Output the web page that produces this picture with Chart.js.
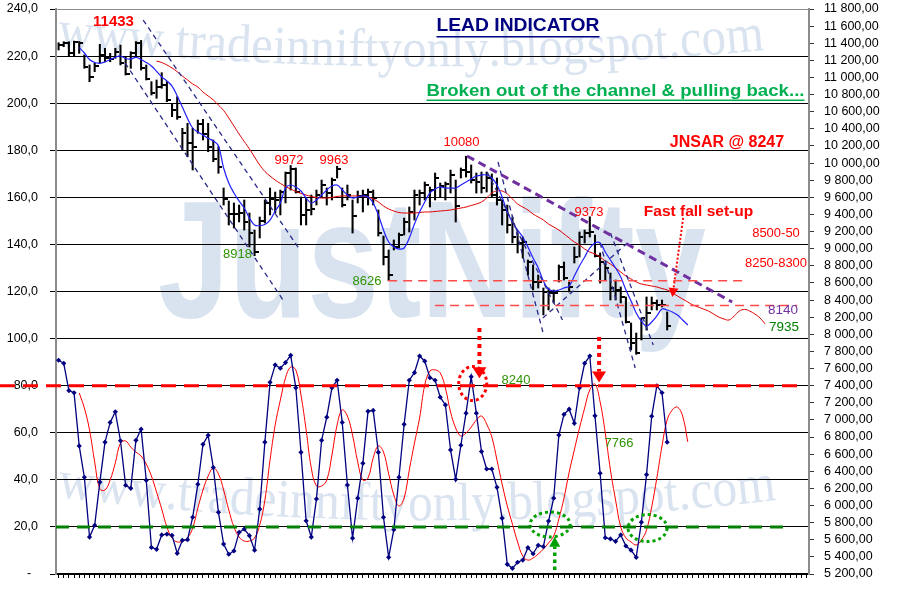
<!DOCTYPE html>
<html><head><meta charset="utf-8">
<script src="https://cdn.jsdelivr.net/npm/chart.js@4.4.1/dist/chart.umd.min.js"></script>
<style>html,body{margin:0;padding:0;background:#fff;}#wrap{width:898px;height:611px;}</style>
</head><body><div id="wrap"><canvas id="c" width="898" height="611"></canvas></div>
<script>
const CATEGORY_COUNT = 146;
const categories = Array.from({length: CATEGORY_COUNT}, (_, i) => 'S' + (i + 1));

const barHigh = [
 11406,11418,11418,11425,11420,11263,11146,11166,11388,11341,
 11282,11341,11379,11243,11301,11420,11433,11146,10951,10971,
 11056,10951,10698,10775,10406,10465,10406,10503,10511,10465,
 10270,10191,9709,9557,9534,9510,9569,9417,9218,9370,
 9569,9709,9662,9685,9896,9972,9943,9604,9592,9627,
 9685,9802,9709,9826,9963,9709,9744,9569,9674,9685,
 9697,9685,9452,9148,8985,9102,9183,9358,9487,9685,
 9685,9779,9721,9884,9767,9779,9919,9802,9943,10080,
 9978,9884,9896,9896,9873,9826,9569,9510,9370,9183,
 9137,8868,8810,8693,8541,8541,8518,8810,8845,8611,
 9020,9195,9218,9373,9160,8950,8833,8716,8634,8553,
 8436,8132,8015,8191,8436,8436,8401,8401,8261];
const barLow = [
 11321,11360,11243,11243,11282,11107,10951,11068,11166,11184,
 11184,11224,11146,11029,11107,11243,11087,10971,10795,10757,
 10874,10717,10542,10511,10153,10075,9919,10348,10270,10133,
 10016,9881,9510,9277,9242,9312,9218,9020,8918,9125,
 9300,9394,9417,9394,9534,9685,9650,9277,9277,9394,
 9510,9604,9510,9569,9826,9487,9569,9183,9534,9429,
 9510,9510,9148,8810,8626,8985,9008,9160,9195,9335,
 9510,9569,9487,9569,9604,9569,9650,9312,9826,9837,
 9767,9650,9650,9662,9604,9510,9277,9183,9067,8950,
 8891,8693,8518,8541,8226,8284,8366,8611,8634,8494,
 8833,8903,9067,9137,8903,8599,8634,8401,8401,8366,
 8132,7817,7766,7934,8050,8284,8284,8319,8050];
const barClose = [
 11379,11399,11282,11418,11399,11126,11009,11134,11263,11224,
 11212,11301,11166,11041,11289,11399,11107,10982,10815,10885,
 10912,10737,10620,10535,10355,10231,10191,10457,10336,10191,
 10044,9958,9581,9405,9405,9417,9312,9183,8962,9323,
 9534,9581,9569,9662,9884,9931,9662,9394,9452,9464,
 9627,9744,9651,9802,9931,9510,9627,9382,9616,9627,
 9662,9592,9183,8903,8693,9020,9160,9312,9429,9627,
 9651,9744,9685,9826,9732,9756,9861,9499,9919,9896,
 9802,9779,9709,9826,9627,9569,9452,9277,9137,9067,
 9078,8845,8611,8611,8494,8483,8483,8786,8658,8553,
 8903,9137,9183,9195,8915,8845,8774,8541,8518,8436,
 8144,7898,7782,8191,8249,8366,8342,8342,8097];

const fastStart = 4;
const fastAvg = [
 11348,11286,11210,11175,11166,11181,11210,11236,11251,11222,
 11216,11236,11210,11175,11134,11072,11006,10959,10900,10784,
 10655,10521,10410,10363,10328,10290,10258,10200,9943,9767,
 9651,9557,9475,9359,9277,9269,9283,9335,9440,9534,
 9709,9744,9721,9674,9592,9534,9569,9627,9686,9732,
 9744,9686,9627,9592,9604,9616,9604,9534,9394,9218,
 9078,9020,8996,9008,9125,9289,9429,9546,9651,9697,
 9721,9709,9709,9709,9744,9779,9814,9849,9861,9861,
 9826,9744,9604,9429,9312,9218,9137,9020,8891,8775,
 8623,8529,8506,8518,8541,8564,8681,8798,8903,9008,
 9067,9067,8962,8868,8775,8670,8518,8389,8249,8155,
 8097,8144,8214,8296,8284,8261,8226,8167,8109];

const slowStart = 19;
const slowAvg = [
 11192,11175,11146,11111,11068,11017,10971,10924,10889,10830,
 10784,10737,10678,10614,10527,10433,10340,10252,10165,10071,
 9978,9902,9849,9802,9762,9727,9697,9668,9645,9627,
 9610,9598,9592,9592,9598,9610,9616,9616,9616,9616,
 9610,9604,9581,9546,9499,9464,9440,9423,9417,9417,
 9417,9423,9429,9429,9435,9440,9446,9452,9464,9475,
 9487,9505,9522,9546,9592,9651,9674,9674,9639,9581,
 9522,9487,9452,9405,9370,9335,9288,9253,9218,9172,
 9125,9078,9043,8996,8961,8938,8903,8856,8821,8775,
 8728,8681,8646,8611,8588,8576,8564,8553,8535,8518,
 8483,8447,8412,8377,8342,8319,8296,8272,8237,8202,
 8179,8167,8214,8272,8290,8272,8237,8191,8121];

const oscillator = [
 90.8,89.5,77.9,77.0,54.4,41.1,15.7,20.7,39.0,56.0,
 64.4,68.9,56.6,37.7,36.4,56.8,61.5,39.8,11.3,10.5,
 16.6,16.9,16.4,8.8,14.3,14.6,24.1,38.1,55.1,58.9,
 45.2,26.2,12.7,8.4,9.8,17.7,19.1,16.3,10.1,27.6,
 56.0,81.4,88.8,87.4,89.8,92.9,79.1,51.7,22.6,15.7,
 31.9,56.8,66.6,79.1,82.3,64.4,37.8,15.2,32.2,47.0,
 69.1,69.5,51.7,24.1,7.1,18.8,41.1,63.6,82.3,85.5,
 92.6,90.4,83.4,82.3,75.1,71.8,52.7,40.2,54.7,68.3,
 83.8,68.3,52.0,44.6,44.6,36.8,23.7,4.1,2.4,5.0,
 5.9,11.2,8.6,12.2,11.6,22.5,32.2,59.0,67.8,70.0,
 64.0,79.1,89.5,92.6,67.2,42.8,15.4,14.9,13.9,16.6,
 11.9,10.1,7.1,22.0,42.2,67.0,79.9,77.0,56.0];

const signalStart = 4;
const signal = [
 76.9,70.5,61.2,47.6,36.1,35.7,39.9,47.2,55.6,56.5,
 53.9,51.8,50.1,46.7,41.6,34.8,27.6,20.0,15.3,13.6,
 14.0,15.3,19.5,28.0,35.7,41.6,45.0,42.5,35.7,27.2,
 20.0,15.7,14.0,14.0,15.3,20.8,31.4,48.4,63.3,73.9,
 83.3,87.9,86.7,76.0,61.2,45.0,37.4,37.4,39.9,50.5,
 63.3,69.7,67.1,59.0,47.6,39.9,40.8,49.3,54.4,51.8,
 42.5,33.6,28.9,32.3,44.2,55.6,66.3,80.3,86.2,86.7,
 85.4,79.0,68.8,62.0,58.6,59.9,62.4,65.4,67.1,63.7,
 58.2,48.4,38.2,28.9,21.2,13.6,7.6,5.9,6.8,8.5,
 10.6,13.2,16.1,23.4,32.3,43.3,52.7,62.0,70.5,78.2,
 80.7,73.1,59.9,44.2,31.4,20.0,15.3,13.6,12.3,14.4,
 18.7,28.5,40.8,54.4,65.4,69.7,70.9,67.1,56.1];

// axis ranges / tick steps
const leftAxis = {min: 0, max: 240, step: 20};
const rightAxis = {min: 5200, max: 11800, step: 200};

// annotation geometry in data space: [category index, price]
const trendLines = [
 {a:[16.4,11671], b:[46.8,8985], kind:'channel'},
 {a:[12.9,11169], b:[43.5,8401], kind:'channel'},
 {a:[85.2,10013], b:[93.9,8027], kind:'channel'},
 {a:[83.1,9896],  b:[97.7,8167], kind:'channel'},
 {a:[105.0,9067], b:[111.8,7606], kind:'channel'},
 {a:[107.0,9183], b:[115.3,7875], kind:'channel'},
 {a:[93.9,8191],  b:[110.3,9067], kind:'channel'},
 {a:[79.2,10083], b:[130.6,8377], kind:'resistance'}
];
const priceLevels = [ {price:8626, from:63.9, to:132.6}, {price:8336, from:73.0, to:143.2} ];
const oscLevels = [ {value:80, to:143.4, color:'#ff0000', fromEdge:true}, {value:20, to:141.9, color:'#008000', fromEdge:false} ];
const oscRings = [ {at:[80.3,80.9], rx:14, ry:17, color:'#ff0000', w:3}, {at:[95.3,21.0], rx:20, ry:12.5, color:'#00a000', w:3}, {at:[114.2,19.5], rx:19.5, ry:13.5, color:'#00a000', w:3} ];
const oscArrows = [ {x:81.6, from:104.5, to:83.2, color:'#ff0000'}, {x:104.8, from:100.7, to:81.3, color:'#ff0000'}, {x:96.2, from:1.7, to:15.8, color:'#00a000'} ];
const fastFallArrow = {a:[121.1,9359], b:[119.0,8436]};

const notes = [
 {t:'11433', x:113.5, y:22, c:'#ff0000', f:'bold 15px'},
 {t:'LEAD INDICATOR', x:518, y:26, c:'#000080', f:'bold 19px', u:true, w:163},
 {t:'Broken out of the channel & pulling back...', x:615.5, y:91, c:'#00b050', f:'bold 16.5px', u:true, w:378},
 {t:'JNSAR @ 8247', x:727, y:143, c:'#ff0000', f:'bold 16px'},
 {t:'10080', x:461.5, y:142, c:'#ff0000', f:'13px'},
 {t:'9972', x:289, y:160, c:'#ff0000', f:'13px'},
 {t:'9963', x:334, y:160, c:'#ff0000', f:'13px'},
 {t:'9373', x:589, y:212, c:'#ff0000', f:'13px'},
 {t:'Fast fall set-up', x:698.5, y:212, c:'#ff0000', f:'bold 15.5px'},
 {t:'8500-50', x:776, y:233, c:'#ff0000', f:'13px'},
 {t:'8250-8300', x:776, y:263, c:'#ff0000', f:'13px'},
 {t:'8140', x:783, y:310, c:'#7030a0', f:'13.5px'},
 {t:'7935', x:784, y:327, c:'#008000', f:'13.5px'},
 {t:'8918', x:237.5, y:254, c:'#2f9400', f:'13px'},
 {t:'8626', x:367, y:281, c:'#2f9400', f:'13px'},
 {t:'8240', x:516, y:380, c:'#2f9400', f:'13px'},
 {t:'7766', x:619, y:443, c:'#2f9400', f:'13px'}
];

const FONT = '"Liberation Sans", Arial, sans-serif';
Chart.defaults.font.family = FONT;

function placeAt(values, start) {
  const out = new Array(CATEGORY_COUNT).fill(null);
  values.forEach((v, k) => { out[start + k] = v; });
  return out;
}
const closeTick = document.createElement('canvas');
closeTick.width = 8; closeTick.height = 2;
(function(){ const g = closeTick.getContext('2d'); g.fillStyle = '#000'; g.fillRect(4, 0, 4, 2); })();

function fmtLeft(v) { return v === 0 ? '-  ' : v.toFixed(1).replace('.', ','); }
function fmtRight(v) { return String(Math.round(v)).replace(/\B(?=(\d{3})+(?!\d))/g, ' ') + ',00'; }

function arcText(ctx, text, x0, x1, pts, size) {
  const [[ax, ay], [bx, by], [cx, cy]] = pts;
  const q = x => ay*(x-bx)*(x-cx)/((ax-bx)*(ax-cx)) + by*(x-ax)*(x-cx)/((bx-ax)*(bx-cx)) + cy*(x-ax)*(x-bx)/((cx-ax)*(cx-bx));
  const dq = x => ay*((x-bx)+(x-cx))/((ax-bx)*(ax-cx)) + by*((x-ax)+(x-cx))/((bx-ax)*(bx-cx)) + cy*((x-ax)+(x-bx))/((cx-ax)*(cx-bx));
  ctx.font = size + 'px "Liberation Serif", "Times New Roman", serif';
  let total = 0; for (const ch of text) total += ctx.measureText(ch).width;
  const sx = (x1 - x0) / total;
  let pos = x0;
  ctx.textAlign = 'center'; ctx.textBaseline = 'alphabetic';
  for (const ch of text) {
    const w = ctx.measureText(ch).width * sx;
    const mx = pos + w / 2;
    ctx.save(); ctx.translate(mx, q(mx)); ctx.rotate(Math.atan(dq(mx))); ctx.scale(sx, 1);
    ctx.fillText(ch, 0, 0); ctx.restore();
    pos += w;
  }
}

function arrowHead(ctx, tx, ty, ang, len, half) {
  ctx.save(); ctx.setLineDash([]); ctx.translate(tx, ty); ctx.rotate(ang);
  ctx.beginPath(); ctx.moveTo(0, 0); ctx.lineTo(-len, -half); ctx.lineTo(-len, half); ctx.closePath(); ctx.fill(); ctx.restore();
}

const decor = {
  id: 'decor',
  beforeDraw(chart) {
    const ctx = chart.ctx;
    ctx.save();
    ctx.fillStyle = '#fff'; ctx.fillRect(0, 0, chart.width, chart.height);
    ctx.fillStyle = '#d9e3f0';
    ctx.font = 'bold 167px ' + FONT;
    const w = ctx.measureText('JustNifty').width;
    ctx.save(); ctx.translate(158, 317); ctx.scale(548 / w, 1); ctx.textAlign = 'left'; ctx.textBaseline = 'alphabetic';
    ctx.fillText('JustNifty', 0, 0); ctx.restore();
    ctx.fillStyle = '#dae3f0';
    arcText(ctx, 'www.tradeinniftyonly.blogspot.com', 57, 765, [[57,47],[380,66],[765,50]], 54);
    arcText(ctx, 'www.tradeinniftyonly.blogspot.com', 57, 777, [[57,497],[390,520],[777,500]], 54);
    ctx.restore();
  },
  afterDatasetsDraw(chart) {
    const ctx = chart.ctx, xs = chart.scales.x, yp = chart.scales.y2, yo = chart.scales.y;
    const X = i => xs.getPixelForValue(i);
    ctx.save();
    trendLines.forEach(l => {
      ctx.beginPath();
      if (l.kind === 'channel') { ctx.strokeStyle = '#2a2a8a'; ctx.lineWidth = 1.3; ctx.setLineDash([5, 4]); }
      else { ctx.strokeStyle = '#7030a0'; ctx.lineWidth = 3; ctx.setLineDash([8, 5]); }
      ctx.moveTo(X(l.a[0]), yp.getPixelForValue(l.a[1]));
      ctx.lineTo(X(l.b[0]), yp.getPixelForValue(l.b[1]));
      ctx.stroke();
    });
    ctx.strokeStyle = '#ff4a4a'; ctx.lineWidth = 1.5; ctx.setLineDash([9, 6]);
    priceLevels.forEach(p => {
      const y = yp.getPixelForValue(p.price);
      ctx.beginPath(); ctx.moveTo(X(p.from), y); ctx.lineTo(X(p.to), y); ctx.stroke();
    });
    oscRings.forEach(r => {
      ctx.strokeStyle = r.color; ctx.lineWidth = r.w; ctx.setLineDash([3, 3]);
      ctx.beginPath(); ctx.ellipse(X(r.at[0]), yo.getPixelForValue(r.at[1]), r.rx, r.ry, 0, 0, Math.PI * 2); ctx.stroke();
    });
    oscArrows.forEach(a => {
      const x = X(a.x), y1 = yo.getPixelForValue(a.from), y2 = yo.getPixelForValue(a.to);
      const dir = Math.sign(y2 - y1);
      const red = a.color === '#ff0000';
      const head = red ? 11 : 10;
      ctx.strokeStyle = a.color; ctx.fillStyle = a.color; ctx.lineWidth = red ? 4 : 3.5; ctx.setLineDash(red ? [4, 4] : [3.5, 3.5]);
      ctx.beginPath(); ctx.moveTo(x, y1); ctx.lineTo(x, y2 - dir * head); ctx.stroke();
      arrowHead(ctx, x, y2, dir > 0 ? Math.PI / 2 : -Math.PI / 2, head, red ? 7 : 5.5);
    });
    {
      const x1 = X(fastFallArrow.a[0]), y1 = yp.getPixelForValue(fastFallArrow.a[1]);
      const x2 = X(fastFallArrow.b[0]), y2 = yp.getPixelForValue(fastFallArrow.b[1]);
      const ang = Math.atan2(y2 - y1, x2 - x1);
      ctx.strokeStyle = '#ff0000'; ctx.fillStyle = '#ff0000'; ctx.lineWidth = 2; ctx.setLineDash([2, 2]);
      ctx.beginPath(); ctx.moveTo(x1, y1); ctx.lineTo(x2 - Math.cos(ang) * 8, y2 - Math.sin(ang) * 8); ctx.stroke();
      arrowHead(ctx, x2, y2, ang, 9, 5);
    }
    ctx.restore();
  },
  afterDraw(chart) {
    const ctx = chart.ctx, xs = chart.scales.x, yo = chart.scales.y;
    const X = i => xs.getPixelForValue(i);
    ctx.save();
    oscLevels.forEach(l => {
      const y = yo.getPixelForValue(l.value);
      ctx.strokeStyle = l.color; ctx.lineWidth = 3;
      ctx.setLineDash(l.fromEdge ? [15, 8] : [13, 8]);
      ctx.beginPath(); ctx.moveTo(l.fromEdge ? 0 : chart.chartArea.left, y); ctx.lineTo(X(l.to), y); ctx.stroke();
    });
    ctx.setLineDash([]);
    ctx.textAlign = 'center'; ctx.textBaseline = 'middle';
    notes.forEach(n => {
      ctx.font = n.f + ' ' + FONT; ctx.fillStyle = n.c;
      const natural = ctx.measureText(n.t).width;
      const sx = n.w ? n.w / natural : 1;
      ctx.save(); ctx.translate(n.x, n.y); ctx.scale(sx, 1); ctx.fillText(n.t, 0, 0); ctx.restore();
      if (n.u) {
        const w = natural * sx; const size = parseFloat(n.f.replace('bold ', ''));
        ctx.strokeStyle = n.c; ctx.lineWidth = 1.5;
        ctx.beginPath(); ctx.moveTo(n.x - w / 2, n.y + size * 0.56); ctx.lineTo(n.x + w / 2, n.y + size * 0.56); ctx.stroke();
      }
    });
    ctx.restore();
  }
};

function fixVertical(width) {
  return function(s) { s.width = width; s.paddingTop = 0; s.paddingBottom = 0; };
}

new Chart(document.getElementById('c'), {
  type: 'bar',
  data: {
    labels: categories,
    datasets: [
      {type:'line', label:'Lead oscillator', data: placeAt(oscillator, 0), yAxisID:'y', borderColor:'#000080', borderWidth:1.3,
       pointStyle:'rectRot', pointRadius:2.6, pointBackgroundColor:'#000080', pointBorderWidth:0, tension:0, order:1},
      {type:'line', label:'Signal', data: placeAt(signal, signalStart), yAxisID:'y', borderColor:'#ff0000', borderWidth:1,
       pointRadius:0, tension:0.4, order:2},
      {type:'line', label:'Fast average', data: placeAt(fastAvg, fastStart), yAxisID:'y2', borderColor:'#2020ff', borderWidth:1.2,
       pointRadius:0, tension:0.4, order:3},
      {type:'line', label:'Slow average', data: placeAt(slowAvg, slowStart), yAxisID:'y2', borderColor:'#e00000', borderWidth:1,
       pointRadius:0, tension:0.4, order:4},
      {type:'line', label:'Close', data: placeAt(barClose, 0), yAxisID:'y2', showLine:false, pointStyle: closeTick,
       pointRadius:3, order:5},
      {type:'bar', label:'High-Low', data: barHigh.map((h, i) => [barLow[i], h]), yAxisID:'y2', backgroundColor:'#000',
       barThickness:1.4, order:6}
    ]
  },
  options: {
    responsive: false, animation: false, devicePixelRatio: 1,
    layout: {padding: {top: 9, left: 0, right: 0, bottom: 0}},
    plugins: {legend: {display: false}, tooltip: {enabled: false}},
    scales: {
      x: {
        offset: true,
        grid: {offset: false, drawOnChartArea: false, drawTicks: true, tickLength: 4, color: '#000'},
        border: {display: true, color: '#000', width: 1.5},
        ticks: {display: false, autoSkip: false},
        afterFit(s) { s.height = 37; s.paddingLeft = 0; s.paddingRight = 0; }
      },
      y: {
        position: 'left', min: leftAxis.min, max: leftAxis.max,
        ticks: {stepSize: leftAxis.step, autoSkip: false, callback: v => fmtLeft(v), color: '#000', font: {size: 12.5}, padding: 12},
        grid: {color: c => c.tick && c.tick.value === leftAxis.max ? '#8c8c8c' : '#000', lineWidth: 1, tickLength: 6, tickColor: '#000'},
        border: {display: true, color: '#8c8c8c', width: 2},
        afterFit: fixVertical(56)
      },
      y2: {
        position: 'right', min: rightAxis.min, max: rightAxis.max,
        ticks: {stepSize: rightAxis.step, autoSkip: false, callback: v => fmtRight(v), color: '#000', font: {size: 12.5}, padding: 10},
        grid: {drawOnChartArea: false, tickLength: 5, color: '#333'},
        border: {display: true, color: '#8c8c8c', width: 2},
        afterFit: fixVertical(89)
      }
    }
  },
  plugins: [decor]
});
</script>
</body></html>
